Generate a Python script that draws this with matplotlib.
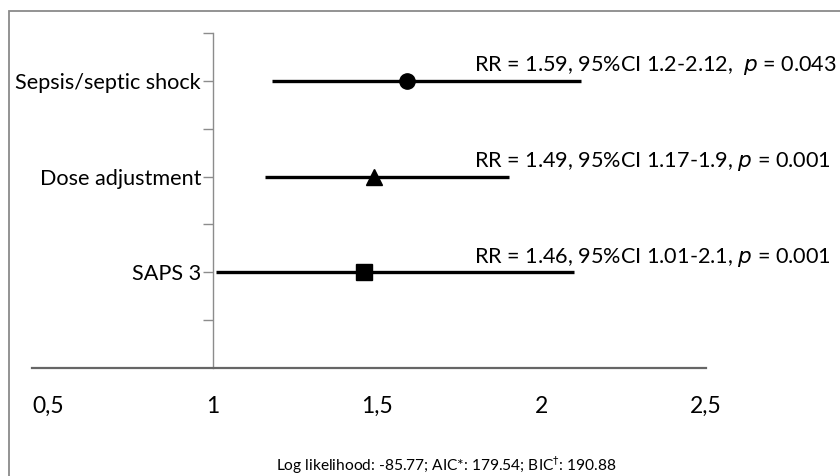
import matplotlib
matplotlib.use("Agg")
import matplotlib.pyplot as plt
from matplotlib.patches import Rectangle

plt.rcParams['font.family'] = ['Lato', 'DejaVu Sans']

categories = ["Sepsis/septic shock", "Dose adjustment", "SAPS 3"]
rr = [1.59, 1.49, 1.46]
ci_low = [1.18, 1.16, 1.01]
ci_high = [2.12, 1.90, 2.10]
markers = ["o", "^", "s"]
labels = [r"RR = 1.59, 95%CI 1.2-2.12,  $\it{p}$ = 0.043",
          r"RR = 1.49, 95%CI 1.17-1.9, $\it{p}$ = 0.001",
          r"RR = 1.46, 95%CI 1.01-2.1, $\it{p}$ = 0.001"]
ypos = [6, 4, 2]
xticks = [0.5, 1, 1.5, 2, 2.5]
xticklabels = ["0,5", "1", "1,5", "2", "2,5"]
footer = r"Log likelihood: -85.77; AIC*: 179.54; BIC$^{\dagger}$: 190.88"

W, H = 840, 476
fig = plt.figure(figsize=(W / 100, H / 100), dpi=100)
ax = fig.add_axes([32 / W, (H - 368) / H, (706 - 32) / W, (368 - 33) / H])
ax.set_xlim(0.45, 2.5)
ax.set_ylim(0, 7)

for y, m, lo, hi, lab, x in zip(ypos, markers, ci_low, ci_high, labels, rr):
    ax.plot([lo, hi], [y, y], color="black", lw=2.4, solid_capstyle="butt", zorder=3)
    ax.plot([x], [y], marker=m, color="black", ms=11 if m != "^" else 12, zorder=4, clip_on=False)
    ax.text(1.795, y + 0.2, lab, ha="left", va="baseline", fontsize=15.6, clip_on=False)

for s in ["top", "right"]:
    ax.spines[s].set_visible(False)
ax.spines["left"].set_position(("data", 1))
ax.spines["left"].set_color("#8c8c8c")
ax.spines["left"].set_linewidth(1.0)
ax.spines["bottom"].set_color("#666666")
ax.spines["bottom"].set_linewidth(1.6)

ax.set_xticks(xticks)
ax.set_xticklabels(xticklabels, fontsize=16.5)
ax.tick_params(axis="x", length=0, pad=20)

ax.set_yticks([1, 2, 3, 4, 5, 6, 7])
ax.set_yticklabels(["", categories[2], "", categories[1], "", categories[0], ""], fontsize=15.6)
ax.tick_params(axis="y", direction="out", length=7, width=1.0, color="#8c8c8c", pad=1.5)

fig.text(446 / W, 1 - 465 / H, footer, ha="center", va="center", fontsize=11.2)

fig.patches.append(Rectangle((9 / W, -0.1), 1.2, 1 - 10.5 / H + 0.1, transform=fig.transFigure,
                             fill=False, edgecolor="#8a8a8a", lw=1.3))

fig.savefig("out.png", dpi=100)
